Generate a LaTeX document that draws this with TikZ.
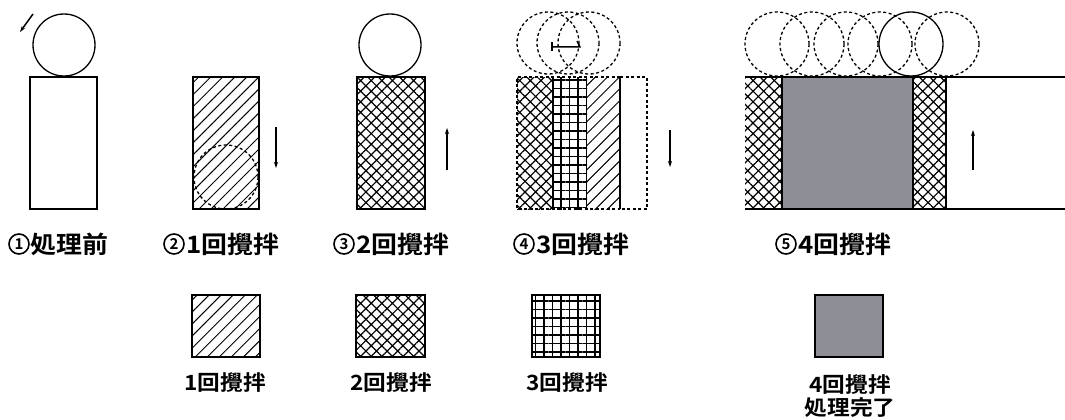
\documentclass[tikz,border=0pt]{standalone}
\usepackage{fontspec}
\newfontfamily\jp{Noto Sans CJK JP}[BoldFont={* Bold}]
\usetikzlibrary{patterns.meta,arrows.meta}
\definecolor{donegray}{HTML}{8E8E96}
\newcommand{\wide}[1]{\scalebox{1.08}[1]{#1}}
\begin{document}
\begin{tikzpicture}[x=1pt,y=-1pt,
  lbl/.style={font=\jp\bfseries\fontsize{24}{26}\selectfont, inner sep=0pt, anchor=west},
  klbl/.style={font=\jp\bfseries\fontsize{21}{23}\selectfont, inner sep=0pt},
  cn/.style={circle, draw, line width=1.6pt, minimum size=20pt, inner sep=0pt,
    font=\jp\bfseries\fontsize{15}{15}\selectfont},
  hatchA/.style={pattern={Lines[angle=45,distance=8.5pt,line width=1pt]}},
  hatchB/.style={pattern={Hatch[angle=45,distance=7.5pt,line width=1.2pt]}},
  hatchC/.style={pattern={Hatch[angle=0,distance=8.5pt,line width=1.5pt]}},
  done/.style={fill=donegray},
  circ/.style={draw, line width=1.3pt},
  dcirc/.style={draw, line width=1.3pt, dash pattern=on 3pt off 2.5pt},
  dline/.style={line width=1.3pt, dash pattern=on 3pt off 2.5pt},
  mv/.style={-{Stealth[length=6pt,width=4pt]}, line width=1.5pt},
  box/.style={draw, line width=1.5pt}]
\useasboundingbox (0,0) rectangle (1065,420);
\fill[white] (0,0) rectangle (1065,420);

% ---- panel 1
\draw[circ] (64,45) circle (31);
\draw[box] (30,77) rectangle (97,209);
\draw[mv] (33,14) -- (20,32);
\node[cn] (c1) at (19,244) {1};
\node[lbl] (l1) at (30,244) {\wide{処理前}};

% ---- panel 2
\draw[box, hatchA] (193,77) rectangle (259,209);
\draw[dcirc] (226,177) circle (32);
\draw[mv] (276,127) -- (276,168);
\node[cn] (c2) at (174,244) {2};
\node[lbl] (l2) at (186,244) {\wide{1回攪拌}};

% ---- panel 3
\draw[circ] (390,45) circle (31);
\draw[box, hatchB] (357,77) rectangle (425,209);
\draw[mv] (447,170) -- (447,128);
\node[cn] (c3) at (344,244) {3};
\node[lbl] (l3) at (356,244) {\wide{2回攪拌}};

% ---- panel 4
\fill[hatchB] (517,77) rectangle (553,209);
\fill[hatchC] (553,77) rectangle (587,209);
\fill[hatchA] (587,77) rectangle (620,209);
\draw[line width=1.1pt] (553,77) -- (553,209);
\draw[line width=1.6pt] (620,77) -- (620,209);
\draw[dline] (620,77) -- (517,77) -- (517,209) -- (620,209);
\draw[dline] (620,77) -- (647,77) -- (647,209) -- (620,209);
\draw[dcirc] (548,43) circle (31);
\draw[dcirc] (568,43) circle (31);
\draw[dcirc] (589,43) circle (31);
\draw[line width=1.5pt] (552,42) -- (552,51);
\draw[line width=1.5pt] (552,47) -- (580,47) -- (577,41);
\draw[mv] (670,130) -- (670,167);
\node[cn] (c4) at (524,244) {4};
\node[lbl] (l4) at (536,244) {\wide{3回攪拌}};

% ---- panel 5
\fill[hatchB] (745,77) rectangle (782,209);
\fill[hatchB] (913,77) rectangle (946,209);
\draw[box, done] (782,77) rectangle (913,209);
\draw[line width=1.5pt] (946,77) -- (946,209);
\draw[line width=1.5pt] (745,77) -- (1065,77);
\draw[line width=1.5pt] (745,209) -- (1065,209);
\foreach \cx in {777,812,846,880,947} \draw[dcirc] (\cx,44) circle (32);
\draw[circ] (911,44) circle (32);
\draw[mv] (973,170) -- (973,130);
\node[cn] (c5) at (786,244) {5};
\node[lbl] (l5) at (798,244) {\wide{4回攪拌}};

% ---- legend
\draw[box, hatchA] (192,295) rectangle (260,357);
\node[klbl] (k1) at (225,383) {\wide{1回攪拌}};
\draw[box, hatchB] (356,295) rectangle (425,357);
\node[klbl] (k2) at (391,383) {\wide{2回攪拌}};
\draw[box, hatchC] (532,295) rectangle (600,357);
\node[klbl] (k3) at (567,383) {\wide{3回攪拌}};
\draw[box, done] (815,295) rectangle (883,357);
\node[klbl] (k4) at (850,385) {\wide{4回攪拌}};
\node[klbl] (k5) at (850,408) {\wide{処理完了}};
\end{tikzpicture}
\end{document}
